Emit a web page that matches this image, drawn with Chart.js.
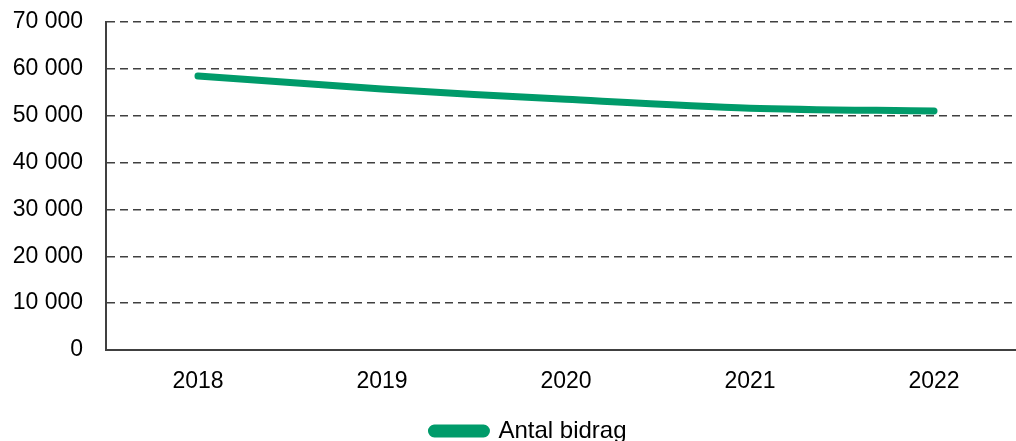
<!DOCTYPE html>
<html>
<head>
<meta charset="utf-8">
<script src="https://cdn.jsdelivr.net/npm/chart.js@4"></script>
<style>
  html, body { margin: 0; padding: 0; background: #fff; overflow: hidden; }
  #wrap { width: 1026px; height: 441px; overflow: hidden; }
</style>
</head>
<body>
<div id="wrap"><canvas id="chart" width="1026" height="453"></canvas></div>
<script>
const years = ['2018', '2019', '2020', '2021', '2022'];
const antalBidrag = [58500, 55700, 53500, 51600, 51000];
const yTicks = [0, 10000, 20000, 30000, 40000, 50000, 60000, 70000];

const fmt = v => String(v).replace(/\B(?=(\d{3})+(?!\d))/g, ' ');
const FONT = 'Liberation Sans, Arial, sans-serif';

// nudge the legend a bit right, like the original layout
const legendShift = {
  id: 'legendShift',
  afterLayout(chart) {
    chart.legend.left += 16;
    chart.legend.right += 16;
  }
};

const ctx = document.getElementById('chart').getContext('2d');
new Chart(ctx, {
  type: 'line',
  data: {
    labels: years,
    datasets: [{
      label: 'Antal bidrag',
      data: antalBidrag,
      borderColor: '#009B6A',
      backgroundColor: '#009B6A',
      borderWidth: 7,
      borderCapStyle: 'round',
      borderJoinStyle: 'round',
      tension: 0.3,
      pointRadius: 0,
      pointHoverRadius: 0
    }]
  },
  options: {
    responsive: false,
    animation: false,
    layout: { padding: 0 },
    plugins: {
      tooltip: { enabled: false },
      legend: {
        position: 'bottom',
        labels: {
          color: '#000',
          font: { family: FONT, size: 24 },
          boxWidth: 55,
          boxHeight: 6,
          useBorderRadius: true,
          borderRadius: 3,
          padding: 0
        }
      }
    },
    scales: {
      y: {
        min: 0,
        max: 70000,
        afterBuildTicks: axis => { axis.ticks = yTicks.map(v => ({ value: v })); },
        afterFit: axis => { axis.width = 106; axis.paddingTop = 22; },
        ticks: {
          color: '#000',
          font: { family: FONT, size: 23 },
          padding: 23,
          callback: v => fmt(v)
        },
        grid: {
          color: '#404040',
          lineWidth: 1.5,
          drawTicks: false
        },
        border: { display: true, color: '#404040', width: 2, dash: [8, 5] }
      },
      x: {
        offset: true,
        afterFit: axis => { axis.height = 69; },
        ticks: {
          color: '#000',
          font: { family: FONT, size: 23 },
          padding: 18
        },
        grid: { display: false, drawTicks: false },
        border: { display: true, color: '#404040', width: 2 }
      }
    }
  },
  plugins: [legendShift]
});
</script>
</body>
</html>
